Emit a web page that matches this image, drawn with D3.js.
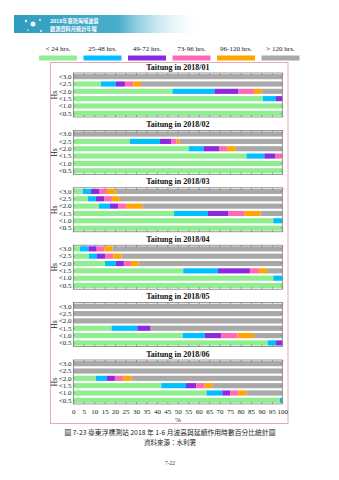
<!DOCTYPE html>
<html><head><meta charset="utf-8">
<script src="https://cdn.jsdelivr.net/npm/d3@7"></script>
<style>body{margin:0;background:#fff}svg{display:block}</style>
</head><body>
<script>
const seriesNames = ["< 24 hrs.", "25-48 hrs.", "49-72 hrs.", "73-96 hrs.", "96-120 hrs.", "> 120 hrs."];
const seriesColors = ["#90ee90", "#00bfff", "#8a2be2", "#ff69b4", "#ffa500", "#a9a9a9"];
const rowLabels = ["<3.0", "<2.5", "<2.0", "<1.5", "<1.0", "<0.5"];
const monthTitles = ["Taitung in 2018/01", "Taitung in 2018/02", "Taitung in 2018/03", "Taitung in 2018/04", "Taitung in 2018/05", "Taitung in 2018/06"];
const xTicks = [0,5,10,15,20,25,30,35,40,45,50,55,60,65,70,75,80,85,90,95,100];
// each row: [<24, 25-48, 49-72, 73-96, 96-120, >120] percent
const jan = [[0,0,0,0,0,100],[13.2,7.2,4.3,4.0,3.7,67.6],[47.5,20.0,11.6,7.3,3.7,9.9],[90.7,6.3,3.0,0,0,0],[100,0,0,0,0,0],[100,0,0,0,0,0]];
const feb = [[0,0,0,0,0,100],[27.1,14.4,5.5,2.4,1.3,49.3],[55.2,7.3,7.2,3.8,4.2,22.3],[82.9,8.5,5.1,3.5,0,0],[100,0,0,0,0,0],[100,0,0,0,0,0]];
const mar = [[4.5,4.0,3.8,3.8,4.2,79.7],[7.0,3.8,3.9,3.8,3.8,77.7],[12.3,5.2,3.9,4.0,7.6,67.0],[48.2,16.2,9.9,7.7,7.6,10.4],[95.7,4.3,0,0,0,0],[100,0,0,0,0,0]];
const apr = [[3.2,4.0,4.0,3.6,4.0,81.2],[7.5,3.8,3.9,3.9,4.0,76.9],[15.2,5.2,3.8,3.4,3.7,68.7],[52.6,16.6,15.3,4.3,3.9,7.3],[95.7,4.3,0,0,0,0],[100,0,0,0,0,0]];
const may = [[0,0,0,0,0,100],[0,0,0,0,0,100],[0,0,0,0,0,100],[18.3,12.3,6.4,0,0,63.0],[52.3,10.7,7.8,7.8,7.8,13.6],[93.0,4.0,3.0,0,0,0]];
const jun = [[0,0,0,0,0,100],[0,0,0,0,0,100],[10.8,5.1,4.0,3.9,4.0,72.2],[42.1,11.8,5.0,3.8,3.8,33.5],[63.8,7.5,3.8,3.8,4.0,17.1],[98.9,1.1,0,0,0,0]];
const months = [jan, feb, mar, apr, may, jun];

const W = 339, H = 480;
const svg = d3.select("body").append("svg").attr("width", W).attr("height", H);
const serif = "'Liberation Serif', 'DejaVu Serif', serif";
const cjk = "'Noto Sans CJK TC', 'Noto Sans CJK SC', sans-serif";

// header banner
const defs = svg.append("defs");
const grad = defs.append("linearGradient").attr("id", "bn").attr("x1", 0).attr("x2", 1);
grad.append("stop").attr("offset", 0).attr("stop-color", "#2f9cc0");
grad.append("stop").attr("offset", 0.55).attr("stop-color", "#4aaecb");
grad.append("stop").attr("offset", 1).attr("stop-color", "#ffffff").attr("stop-opacity", 0);
svg.append("rect").attr("x", 14).attr("y", 15).attr("width", 190).attr("height", 18).attr("fill", "url(#bn)");
[[26,21,1.2],[33,24,2.5],[40,20,1],[28,30,0.8],[41,31,1]].forEach(d =>
  svg.append("circle").attr("cx", d[0]).attr("cy", d[1]).attr("r", d[2]).attr("fill", "#fff").attr("opacity", 0.9));
svg.append("text").attr("x", 50).attr("y", 23).attr("font-family", cjk).attr("font-size", 5.2).attr("fill", "#fff").attr("font-weight", "bold").text("2018年臺灣海域波浪");
svg.append("text").attr("x", 50).attr("y", 30.5).attr("font-family", cjk).attr("font-size", 5.2).attr("fill", "#fff").attr("font-weight", "bold").text("觀測資料月統計年報");

// legend
const legX = d3.scalePoint().domain(seriesNames).range([58, 280.5]);
seriesNames.forEach((s, i) => {
  const cx = legX(s);
  svg.append("text").attr("x", cx).attr("y", 51).attr("text-anchor", "middle")
    .attr("font-family", serif).attr("font-size", 7).attr("fill", "#222").text(s);
  svg.append("rect").attr("x", cx - 19).attr("y", 55.5).attr("width", 38).attr("height", 5).attr("fill", seriesColors[i]);
});

// outer pink border
svg.append("rect").attr("x", 50.5).attr("y", 62.5).attr("width", 237.5).attr("height", 361)
  .attr("fill", "none").attr("stroke", "#e7aab0").attr("stroke-width", 1);

const x = d3.scaleLinear().domain([0, 100]).range([73.3, 282.3]);
const panelTop0 = 73, panelStep = 57.4, panelH = 44;

months.forEach((data, k) => {
  const top = panelTop0 + panelStep * k;
  const y = d3.scaleBand().domain(rowLabels).range([top, top + panelH]).paddingInner(0.3).paddingOuter(0.15);
  const g = svg.append("g");
  // bars
  data.forEach((row, r) => {
    const stackable = [Object.fromEntries(row.map((v, i) => [i, v]))];
    const st = d3.stack().keys(d3.range(6))(stackable);
    st.forEach((layer, i) => {
      const d = layer[0];
      if (d[1] - d[0] <= 0) return;
      g.append("rect").attr("x", x(d[0])).attr("y", y(rowLabels[r]))
        .attr("width", x(d[1]) - x(d[0])).attr("height", y.bandwidth()).attr("fill", seriesColors[i]);
    });
  });
  // frame
  g.append("rect").attr("x", x(0)).attr("y", top).attr("width", x(100) - x(0)).attr("height", panelH)
    .attr("fill", "none").attr("stroke", "#6d6d6d").attr("stroke-width", 0.7);
  // x ticks top & bottom (inward)
  const bottomAxis = d3.axisBottom(x).tickValues(xTicks).tickSizeInner(-2).tickSizeOuter(0)
    .tickFormat(k === 5 ? d3.format("d") : () => "");
  const ba = g.append("g").attr("transform", `translate(0,${top + panelH})`).call(bottomAxis);
  ba.select(".domain").remove();
  ba.selectAll("line").attr("stroke", "#6d6d6d").attr("stroke-width", 0.6);
  ba.selectAll("text").attr("font-family", serif).attr("font-size", 7).attr("fill", "#222").attr("dy", "0.71em").attr("y", 5);
  const topAxis = d3.axisTop(x).tickValues(xTicks).tickSizeInner(-2).tickSizeOuter(0).tickFormat(() => "");
  const ta = g.append("g").attr("transform", `translate(0,${top})`).call(topAxis);
  ta.select(".domain").remove();
  ta.selectAll("line").attr("stroke", "#6d6d6d").attr("stroke-width", 0.6);
  // y axis left
  const la = g.append("g").attr("transform", `translate(${x(0)},0)`).call(d3.axisLeft(y).tickSizeInner(-1.5).tickSizeOuter(0));
  la.select(".domain").remove();
  la.selectAll("line").attr("stroke", "#6d6d6d").attr("stroke-width", 0.6);
  la.selectAll("text").attr("font-family", serif).attr("font-size", 7).attr("fill", "#222").attr("x", -1.8);
  const ra = g.append("g").attr("transform", `translate(${x(100)},0)`).call(d3.axisRight(y).tickSizeInner(-1.5).tickSizeOuter(0).tickFormat(() => ""));
  ra.select(".domain").remove();
  ra.selectAll("line").attr("stroke", "#6d6d6d").attr("stroke-width", 0.6);
  // title
  g.append("text").attr("x", (x(0) + x(100)) / 2).attr("y", top - 3.5).attr("text-anchor", "middle")
    .attr("font-family", serif).attr("font-weight", "bold").attr("font-size", 8).attr("fill", "#111").text(monthTitles[k]);
  // Hs
  g.append("text").attr("transform", `translate(57,${top + panelH / 2}) rotate(-90)`).attr("text-anchor", "middle")
    .attr("font-family", serif).attr("font-size", 7.5).attr("fill", "#222").text("Hs");
});

svg.append("text").attr("x", (x(0) + x(100)) / 2).attr("y", 421.5).attr("text-anchor", "middle")
  .attr("font-family", serif).attr("font-size", 7).attr("fill", "#222").text("%");

svg.append("text").attr("x", 170).attr("y", 434.5).attr("text-anchor", "middle").attr("font-family", cjk)
  .attr("font-size", 6.8).attr("fill", "#222").text("圖 7-23 臺東浮標測站 2018 年 1-6 月波高與延續作用時數百分比統計圖");
svg.append("text").attr("x", 170).attr("y", 444.5).attr("text-anchor", "middle").attr("font-family", cjk)
  .attr("font-size", 6.5).attr("fill", "#222").text("資料來源：水利署");
svg.append("text").attr("x", 170).attr("y", 465).attr("text-anchor", "middle").attr("font-family", serif)
  .attr("font-size", 5.5).attr("fill", "#333").text("7-22");
</script>
</body></html>
